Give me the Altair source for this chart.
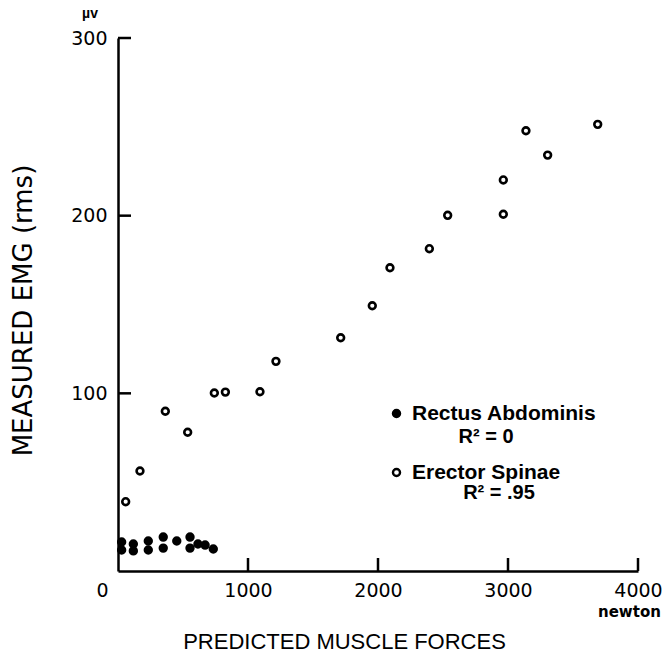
import altair as alt
import pandas as pd

# ---- data ----
series_names = ["Rectus Abdominis", "Erector Spinae"]

rectus_force = [28, 28, 118, 118, 233, 233, 348, 348, 452, 554, 554, 615, 670, 733]
rectus_emg = [16.3, 11.8, 15.2, 11.3, 16.9, 11.8, 19.1, 12.9, 16.9, 19.1, 12.9, 15.2, 14.6, 12.4]

erector_force = [59, 169, 364, 536, 741, 826, 1092, 1215, 1713, 1956, 2092, 2395,
                 2536, 2964, 2964, 3138, 3305, 3690]
erector_emg = [39, 56.3, 89.9, 78.1, 100.2, 100.7, 100.9, 118, 131.3, 149.3, 170.7, 181.4,
               200.2, 200.8, 220.1, 247.8, 234.1, 251.4]

x_tick_values = [0, 1000, 2000, 3000, 4000]
x_inner_ticks = [1000, 2000, 3000, 4000]
y_tick_values = [100, 200, 300]
r2_labels = ["R² = 0", "R² = .95"]
unit_y = "µv"
unit_x = "newton"

FONT = "Liberation Sans"
WIDE = "DejaVu Sans"

df = pd.DataFrame({
    "force": rectus_force + erector_force,
    "emg": rectus_emg + erector_emg,
    "muscle": [series_names[0]] * len(rectus_force) + [series_names[1]] * len(erector_force),
})

xscale = alt.Scale(domain=[0, 4000], nice=False, zero=True)
yscale = alt.Scale(domain=[0, 300], nice=False, zero=True)

x_axis = alt.Axis(
    values=x_tick_values, title="PREDICTED MUSCLE FORCES", format="d",
    ticks=False, tickSize=0, labelPadding=10, labelFontSize=19, labelFont=WIDE,
    labelOffset={"condition": {"test": "datum.value === 0", "value": -16}, "value": 0},
    titleX=226, titleY=70, titleAlign="center", titleBaseline="middle",
    titleFont=FONT, titleFontSize=22, titleFontWeight="normal", labelFlush=False,
)
y_axis = alt.Axis(
    values=y_tick_values, title="MEASURED EMG (rms)", format="d",
    ticks=False, tickSize=0, labelPadding=11, labelFontSize=19, labelFont=WIDE,
    titleX=-95, titleY=272, titleAngle=270, titleAlign="center", titleBaseline="middle",
    titleFont=WIDE, titleFontSize=26, titleFontWeight="normal", labelFlush=False,
)

points = alt.Chart(df).mark_point(
    shape="circle", size=46, strokeWidth=2.6, stroke="black", opacity=1
).encode(
    x=alt.X("force:Q", scale=xscale, axis=x_axis),
    y=alt.Y("emg:Q", scale=yscale, axis=y_axis),
    fill=alt.Fill("muscle:N", scale=alt.Scale(domain=series_names, range=["black", "white"]),
                  legend=alt.Legend(
                      title=None, orient="none", legendX=268, legendY=365,
                      symbolType="circle", symbolSize=50, symbolStrokeColor="black",
                      symbolStrokeWidth=2.4, labelFont=FONT, labelFontSize=21,
                      labelFontWeight="bold", labelOffset=5, rowPadding=37, padding=0,
                      labelColor="black", labelLimit=400,
                  )),
)

yticks = alt.Chart(pd.DataFrame({"yv": y_tick_values})).mark_rule(
    color="black", strokeWidth=2.5
).encode(y=alt.Y("yv:Q", scale=yscale, axis=y_axis), x=alt.value(0), x2=alt.value(13))

xticks = alt.Chart(pd.DataFrame({"xv": x_inner_ticks})).mark_rule(
    color="black", strokeWidth=2.5
).encode(x=alt.X("xv:Q", scale=xscale, axis=x_axis), y=alt.value(533), y2=alt.value(520))


def note(text, px, py, size, font=FONT, weight="bold", align="center"):
    return alt.Chart(pd.DataFrame({"t": [text]})).mark_text(
        font=font, fontSize=size, fontWeight=weight, align=align, baseline="middle", color="black"
    ).encode(text="t:N", x=alt.value(px), y=alt.value(py))


notes = [
    note(r2_labels[0], 368, 399, 20),
    note(r2_labels[1], 381, 455, 20),
    note(unit_y, -28, -24, 14),
    note(unit_x, 480, 574, 15, font=WIDE, align="left"),
]

chart = alt.layer(points, yticks, xticks, *notes).properties(
    width=520, height=533,
    autosize=alt.AutoSizeParams(type="none"),
    padding={"left": 118, "top": 38, "right": 30, "bottom": 84},
    background="white",
).configure_axis(
    domainColor="black", domainWidth=2.5, grid=False, labelColor="black",
    titleColor="black",
).configure_view(strokeWidth=0)

chart.save("out.html", embed_options={"renderer": "svg", "actions": False})
